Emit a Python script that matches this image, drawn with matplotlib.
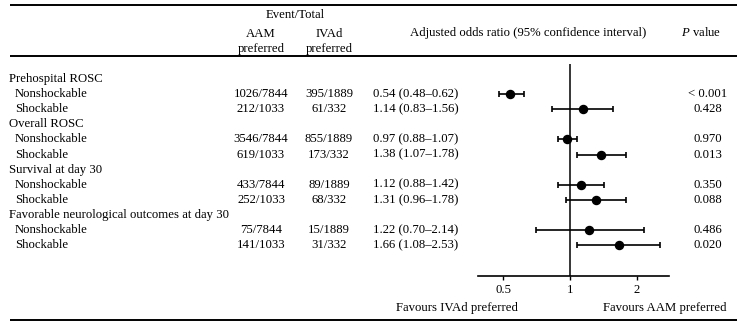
import matplotlib
matplotlib.use("Agg")
import matplotlib.pyplot as plt
import numpy as np

plt.rcParams['font.family'] = ['Liberation Serif', 'DejaVu Serif']
plt.rcParams['font.size'] = 9.2
plt.rcParams['mathtext.fontset'] = 'custom'
plt.rcParams['mathtext.rm'] = 'Liberation Serif'
plt.rcParams['mathtext.it'] = 'Liberation Serif:italic'

outcomes = ["Prehospital ROSC", "Overall ROSC", "Survival at day 30",
            "Favorable neurological outcomes at day 30"]
subgroups = ["Nonshockable", "Shockable"]
aam_events = [1026, 212, 3546, 619, 433, 252, 75, 141]
aam_totals = [7844, 1033, 7844, 1033, 7844, 1033, 7844, 1033]
ivad_events = [395, 61, 855, 173, 89, 68, 15, 31]
ivad_totals = [1889, 332, 1889, 332, 1889, 332, 1889, 332]
odds = [0.54, 1.14, 0.97, 1.38, 1.12, 1.31, 1.22, 1.66]
ci_low = [0.48, 0.83, 0.88, 1.07, 0.88, 0.96, 0.70, 1.08]
ci_high = [0.62, 1.56, 1.07, 1.78, 1.42, 1.78, 2.14, 2.53]
p_values = ["< 0.001", "0.428", "0.970", "0.013", "0.350", "0.088", "0.486", "0.020"]
ticks = [0.5, 1, 2]
tick_labels = ["0.5", "1", "2"]

W, H = 750, 327
fig = plt.figure(figsize=(W / 100, H / 100), dpi=100)

# overlay in pixel coordinates for the table part
bg = fig.add_axes([0, 0, 1, 1])
bg.set_xlim(0, W)
bg.set_ylim(H, 0)
bg.axis('off')

row0, step = 79, 15.1


def row_y(i):
    return row0 + step * i


# rules
for y in (5, 56, 320):
    bg.plot([10, 737], [y, y], color='black', lw=1.4, solid_capstyle='butt')

# header
bg.text(295, 15, "Event/Total", ha='center', va='center')
bg.text(261, 34, "AAM", ha='center', va='center')
bg.text(261, 49, "preferred", ha='center', va='center')
bg.text(329, 34, "IVAd", ha='center', va='center')
bg.text(329, 49, "preferred", ha='center', va='center')
bg.text(646, 33, "Adjusted odds ratio (95% confidence interval)", ha='right', va='center')
bg.text(701, 33, r"$\mathit{P}$ value", ha='center', va='center')

# table rows
k = 0
for j, name in enumerate(outcomes):
    bg.text(9, row_y(3 * j), name, ha='left', va='center')
    for s, sub in enumerate(subgroups):
        y = row_y(3 * j + 1 + s)
        bg.text(15, y, sub, ha='left', va='center')
        bg.text(261, y, f"{aam_events[k]}/{aam_totals[k]}", ha='center', va='center')
        bg.text(329, y, f"{ivad_events[k]}/{ivad_totals[k]}", ha='center', va='center')
        bg.text(373, y, f"{odds[k]:.2f} ({ci_low[k]:.2f}\u2013{ci_high[k]:.2f})",
                ha='left', va='center')
        bg.text(708, y, p_values[k], ha='center', va='center')
        k += 1

# forest plot
x0, x1, ytop, ybot = 478, 669, 64, 276
ax = fig.add_axes([x0 / W, 1 - ybot / H, (x1 - x0) / W, (ybot - ytop) / H])
ax.patch.set_alpha(0)
ax.set_xscale('log', base=2)
ax.set_xlim(0.386, 2.786)
ax.set_ylim((ybot - row0) / step, (ytop - row0) / step)

ypos = [3 * j + 1 + s for j in range(len(outcomes)) for s in range(len(subgroups))]
odds_a = np.array(odds)
err = [odds_a - np.array(ci_low), np.array(ci_high) - odds_a]
ax.errorbar(odds, ypos, xerr=err, fmt='o', color='black', ms=5.8,
            elinewidth=1.2, capsize=2, capthick=1.2)
ax.axvline(1, color='black', lw=1.1)

for sp in ('top', 'left', 'right'):
    ax.spines[sp].set_visible(False)
ax.spines['bottom'].set_linewidth(1.2)
ax.set_yticks([])
ax.set_xticks(ticks)
ax.set_xticklabels(tick_labels)
ax.minorticks_off()
ax.tick_params(axis='x', direction='out', length=3, width=1, pad=3, labelsize=9.2)

bg.text(457, 308, "Favours IVAd preferred", ha='center', va='center')
bg.text(665, 308, "Favours AAM preferred", ha='center', va='center')

fig.savefig("out.png", dpi=100)
